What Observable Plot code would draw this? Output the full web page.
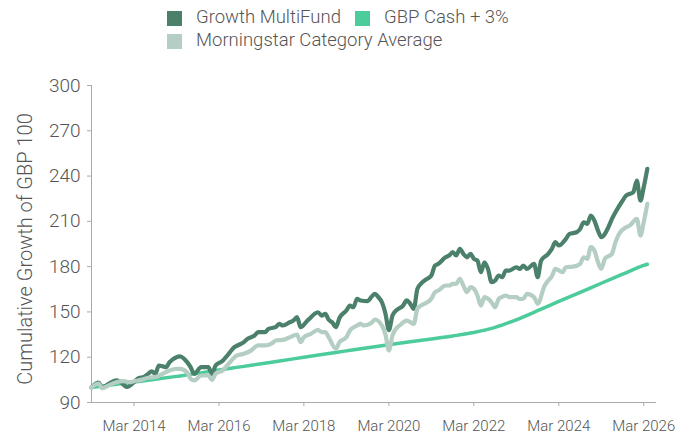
<!DOCTYPE html>
<html><head><meta charset="utf-8">
<script src="https://cdn.jsdelivr.net/npm/d3@7"></script>
<script src="https://cdn.jsdelivr.net/npm/@observablehq/plot@0.6"></script>
<style>
body{margin:0;background:#fff;font-family:Roboto,"Noto Sans",sans-serif;font-weight:300;}
#legend{position:relative;height:55px;width:696px;color:#555;font-size:18.5px;}
.sw{position:absolute;width:15px;height:15px;}
.lt{position:absolute;line-height:20px;white-space:nowrap;}
</style></head><body>
<div id="legend"></div>
<div id="chart"></div>
<script>
const seriesNames = ["Growth MultiFund", "GBP Cash + 3%", "Morningstar Category Average"];
const seriesColors = ["#4b816b", "#4ccb9b", "#b5cec3"];
const yTicks = [90, 120, 150, 180, 210, 240, 270, 300];
const xTickLabels = ["2014-03", "2016-03", "2018-03", "2020-03", "2022-03", "2024-03", "2026-03"];
const yTitle = "Cumulative Growth of GBP 100";

const fundDates = ["2013-03","2013-05","2013-06","2013-08","2013-10","2013-11","2014-01","2014-03","2014-04","2014-06","2014-07","2014-08","2014-09","2014-10","2014-12","2015-01","2015-03","2015-04","2015-06","2015-07","2015-08","2015-10","2015-12","2016-01","2016-02","2016-04","2016-06","2016-07","2016-08","2016-10","2016-11","2017-01","2017-02","2017-04","2017-05","2017-07","2017-08","2017-09","2017-11","2017-12","2018-01","2018-02","2018-04","2018-05","2018-06","2018-07","2018-08","2018-09","2018-10","2018-11","2018-12","2019-01","2019-03","2019-04","2019-05","2019-06","2019-07","2019-09","2019-10","2019-11","2019-12","2020-01","2020-02","2020-03","2020-04","2020-05","2020-07","2020-08","2020-09","2020-10","2020-11","2020-12","2021-01","2021-03","2021-04","2021-05","2021-07","2021-08","2021-09","2021-10","2021-11","2021-12","2022-01","2022-02","2022-03","2022-04","2022-05","2022-06","2022-07","2022-08","2022-09","2022-10","2022-11","2022-12","2023-01","2023-03","2023-04","2023-05","2023-06","2023-08","2023-09","2023-10","2023-12","2024-01","2024-02","2024-03","2024-05","2024-06","2024-08","2024-09","2024-10","2024-11","2024-12","2025-01","2025-02","2025-03","2025-05","2025-06","2025-07","2025-09","2025-10","2025-12","2026-01","2026-02","2026-03","2026-04"];
const fundValues = [100,103.2,100.1,102.6,104.6,103.8,100.3,103.4,105.7,107.2,109,110.7,109,114.5,113.4,116.7,120,120.5,116.7,113.4,109,113.4,113.4,109,114.5,117.6,123,126,127.5,130,132.2,134.4,136.6,136.6,138.8,139.9,142.1,141,143.2,144.3,146.5,139.9,144.3,146.5,148.7,149.8,147.6,148.7,144.8,143,139.9,146,150.9,154.2,153.1,158.7,157.6,157.1,159.8,162,159.8,156.4,148.7,138,147.6,150.9,154.2,157.6,155.4,152.1,165.3,168.6,170.8,174.1,180.7,181.9,186.2,187.4,189.6,187.4,191.8,188.5,186.2,188.5,185.2,184,176.3,182.9,178.5,169.7,170.8,174.1,173,177.4,177.4,179.6,178.5,180.7,178.5,181.9,173,184,188.5,191.8,196.2,194,198.4,201.7,202.8,205,209.4,208.3,213.8,210.5,203.9,199.5,206.1,211.7,216,223.8,227.1,229.3,237,223.8,232.6,244.8];

const categoryDates = ["2013-03","2013-05","2013-06","2013-08","2013-10","2013-12","2014-02","2014-03","2014-05","2014-07","2014-09","2014-11","2015-01","2015-03","2015-04","2015-06","2015-07","2015-08","2015-10","2015-12","2016-01","2016-02","2016-04","2016-06","2016-08","2016-10","2016-12","2017-02","2017-04","2017-06","2017-07","2017-09","2017-11","2018-01","2018-02","2018-03","2018-05","2018-07","2018-08","2018-09","2018-10","2018-12","2019-01","2019-03","2019-04","2019-06","2019-07","2019-08","2019-10","2019-11","2020-01","2020-02","2020-03","2020-04","2020-05","2020-06","2020-08","2020-09","2020-10","2020-11","2020-12","2021-01","2021-03","2021-04","2021-05","2021-07","2021-08","2021-09","2021-10","2021-11","2021-12","2022-01","2022-02","2022-03","2022-04","2022-05","2022-06","2022-07","2022-08","2022-09","2022-10","2022-11","2022-12","2023-01","2023-03","2023-04","2023-05","2023-06","2023-08","2023-09","2023-11","2023-12","2024-01","2024-02","2024-04","2024-05","2024-07","2024-09","2024-10","2024-11","2024-12","2025-01","2025-02","2025-03","2025-04","2025-06","2025-07","2025-08","2025-10","2025-11","2026-01","2026-02","2026-03","2026-04"];
const categoryValues = [100,102.5,99.5,101.5,103.4,104.1,103.4,104.1,105,106.4,106.8,109,111.2,112.3,112.3,110,105.7,104.6,107.9,107.9,105,109,111.2,116.5,121,122.3,124.4,127.8,127.8,129.3,131.1,131.5,133.2,135,130,133.2,135.5,138.1,136.6,136.6,133.2,125.6,130,133.2,137.7,141,142.1,141,142.6,145,141,135,124.5,134.5,138.8,141,144.3,143.2,142.1,152.1,154.2,155.4,158.7,163.1,164.2,167.5,167.5,168.6,168.6,171.9,167.5,163.1,166.4,165.3,160.9,154.2,159.8,158.7,156.4,153.1,158.7,160,160.9,159.8,159.8,158.5,158.7,162,159.8,155.4,167.5,170.8,173.5,178.5,176.3,179.6,180,181.9,186.2,185.2,192.9,190.7,182.9,178.5,185.2,188.5,196.2,201.7,206.1,207.2,211.7,200.6,209.4,221.6];

const cashDates = ["2013-03","2013-09","2014-03","2014-09","2015-03","2015-09","2016-03","2016-09","2017-03","2017-09","2018-03","2018-09","2019-03","2019-09","2020-03","2020-09","2021-03","2021-09","2022-03","2022-09","2023-03","2023-09","2024-03","2024-09","2025-03","2025-09","2026-03","2026-04"];
const cashValues = [100,101.8,103.6,105.4,107.3,109.3,111.6,113.6,115.7,117.8,120,122.1,124.2,126.3,128.3,130.2,132.1,134.1,136.4,139.8,144.8,150.8,157,163,169,175,180.8,181.6];

const parse = d3.utcParse("%Y-%m");
const toRows = (ds, vs) => ds.map((d, i) => ({date: parse(d), value: vs[i]}));
const fund = toRows(fundDates, fundValues);
const category = toRows(categoryDates, categoryValues);
const cash = toRows(cashDates, cashValues);
const xTicks = xTickLabels.map(parse);

// legend
const legend = document.getElementById("legend");
const items = [
  {i: 0, sx: 167, sy: 11, tx: 196, ty: 7},
  {i: 1, sx: 355, sy: 11, tx: 384, ty: 7},
  {i: 2, sx: 167, sy: 34, tx: 196, ty: 30}
];
for (const it of items) {
  const s = document.createElement("div");
  s.className = "sw";
  s.style.left = it.sx + "px"; s.style.top = it.sy + "px";
  s.style.background = seriesColors[it.i];
  legend.appendChild(s);
  const t = document.createElement("div");
  t.className = "lt";
  t.style.left = it.tx + "px"; t.style.top = it.ty + "px";
  t.textContent = seriesNames[it.i];
  legend.appendChild(t);
}

const chart = Plot.plot({
  width: 696,
  height: 382,
  marginLeft: 91,
  marginRight: 40,
  marginTop: 30,
  marginBottom: 35,
  style: {fontFamily: "Roboto, 'Noto Sans', sans-serif", fontWeight: 300, background: "#fff", color: "#555", overflow: "visible"},
  x: {type: "utc", domain: [parse("2013-03"), new Date(Date.UTC(2026, 5, 19))]},
  y: {domain: [90, 300]},
  marks: [
    Plot.axisX({ticks: xTicks, tickFormat: d3.utcFormat("%b %Y"), tickSize: 4, tickPadding: 14, fontSize: 15, stroke: "#aaa", fill: "#555", label: null}),
    Plot.axisY({ticks: yTicks, tickSize: 4, tickPadding: 7, fontSize: 19, stroke: "#aaa", fill: "#555", label: null}),
    Plot.ruleY([90], {stroke: "#aaa"}),
    Plot.ruleX([parse("2013-03")], {y1: 90, y2: 300, stroke: "#aaa"}),
    Plot.lineY(cash, {x: "date", y: "value", stroke: seriesColors[1], strokeWidth: 3.5, curve: "monotone-x"}),
    Plot.lineY(fund, {x: "date", y: "value", stroke: seriesColors[0], strokeWidth: 4.2, curve: "monotone-x", strokeLinejoin: "round"}),
    Plot.lineY(category, {x: "date", y: "value", stroke: seriesColors[2], strokeWidth: 4.2, curve: "monotone-x", strokeLinejoin: "round"}),
    Plot.text([yTitle], {frameAnchor: "left", textAnchor: "middle", dx: -66, dy: 5, rotate: -90, fontSize: 20, fill: "#555"})
  ]
});
document.getElementById("chart").appendChild(chart);
</script>
</body></html>
